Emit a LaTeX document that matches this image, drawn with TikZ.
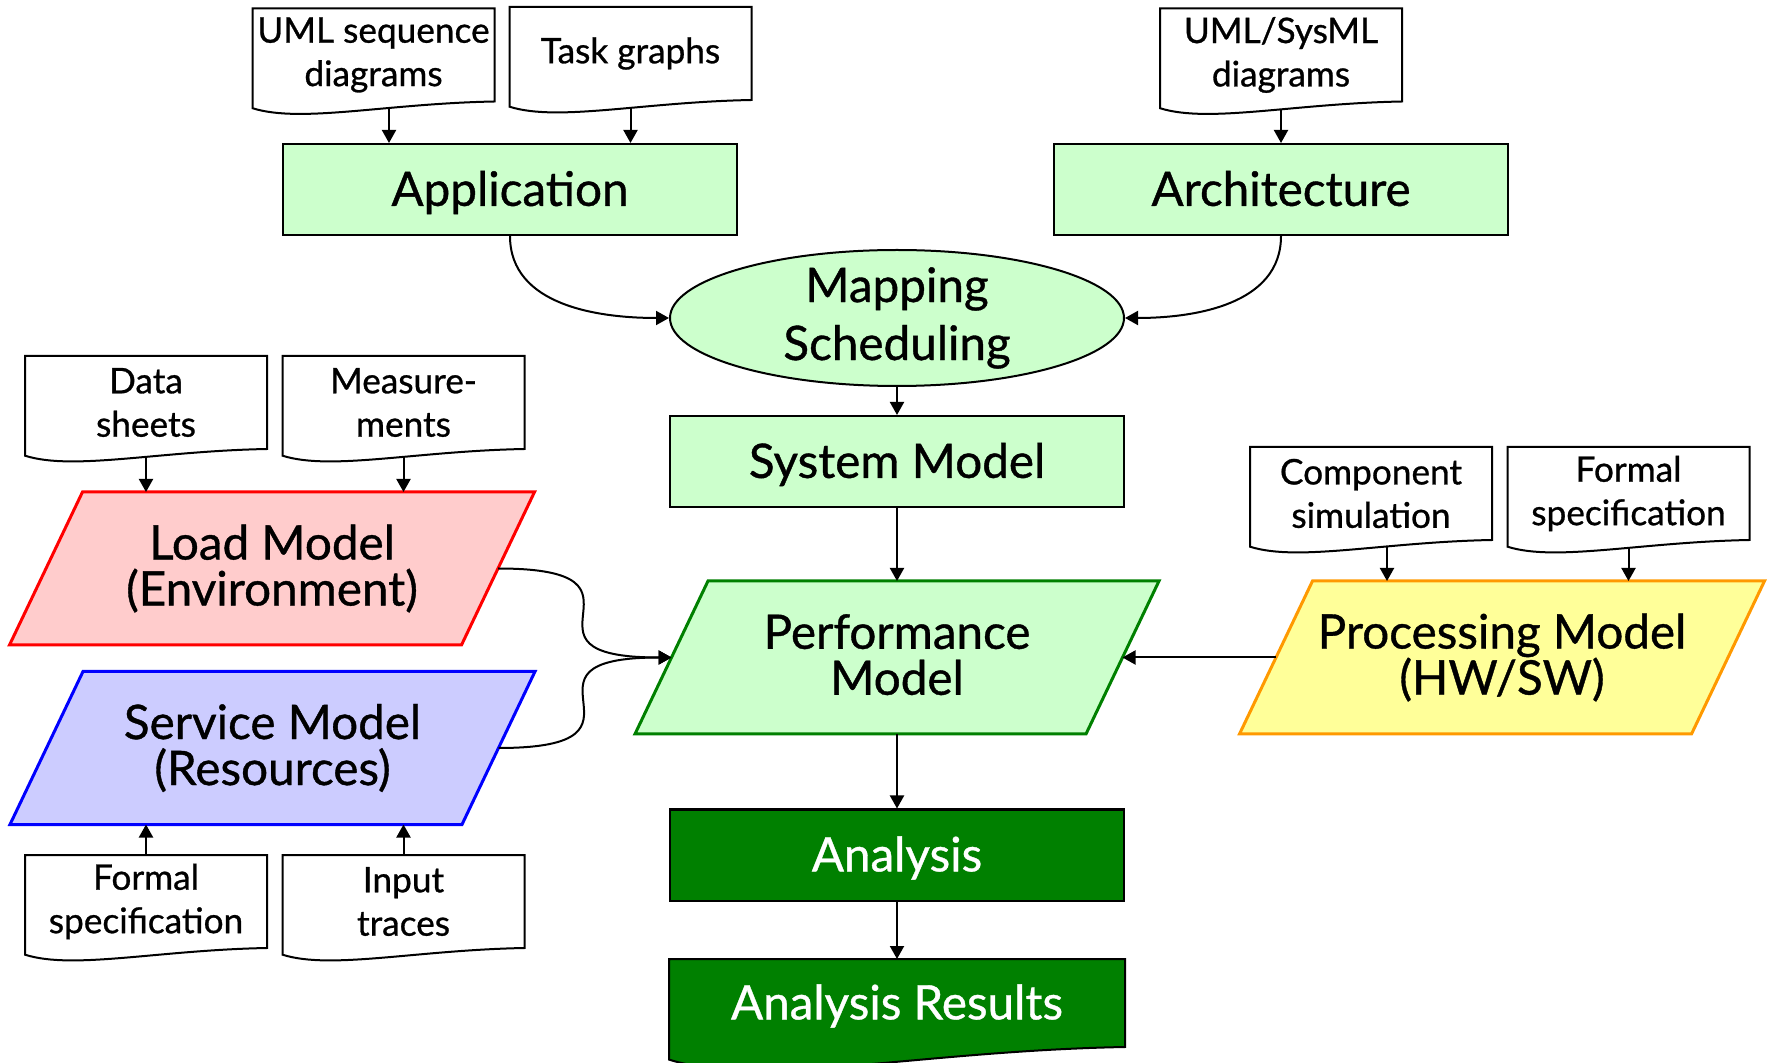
\documentclass[tikz,border=0pt]{standalone}
\usepackage{fontspec}
\setmainfont{Lato}[FakeBold=0.8]
\usetikzlibrary{shapes.geometric,arrows.meta,calc,backgrounds}

\definecolor{lgreen}{HTML}{CCFFCC}
\definecolor{dgreen}{HTML}{008000}
\definecolor{lred}{HTML}{FFCCCC}
\definecolor{lblue}{HTML}{CCCCFF}
\definecolor{lyellow}{HTML}{FFFF99}
\definecolor{borange}{HTML}{FF9900}

% outline of a "document" symbol: rectangle with a wavy lower edge
\newcommand\docoutline[3][]{%
  \draw[#1] (#2.north west) -- (#2.north east) -- (#2.south east)
    .. controls ($(#2.south west)!0.55!(#2.south east)+(0,{2*#3})$)
            and ($(#2.south west)!0.2!(#2.south east)+(0,{22*#3})$)
    .. ($(#2.south west)+(0,{6.7*#3})$) -- cycle;}

% outline of a parallelogram leaning right, built on a rectangular node
\newcommand\paraoutline[2][]{%
  \draw[#1] ($(#2.north west)+(36.5,0)$) -- ($(#2.north east)+(36.5,0)$)
    -- ($(#2.south east)+(-36.5,0)$) -- ($(#2.south west)+(-36.5,0)$) -- cycle;}

\begin{document}
\begin{tikzpicture}[x=0.5pt,y=-0.5pt,
  arr/.style={-{Triangle[length=6.5pt,width=7pt]}, line width=1pt},
  box/.style={rectangle, draw, line width=1pt, fill=lgreen,
    minimum width=227pt, minimum height=45.5pt, inner sep=0pt,
    text height=20pt, text depth=3.6pt,
    font=\fontsize{23.8}{24}\selectfont},
  docbox/.style={rectangle, minimum width=121pt, minimum height=46.5pt,
    inner sep=0pt, outer sep=0pt, align=center,
    font=\fontsize{17.6}{21.7}\selectfont},
  docline/.style={draw, line width=1pt, fill=white},
  para/.style={rectangle, minimum width=226pt, minimum height=76.5pt,
    inner sep=0pt, outer sep=0pt, align=center,
    font=\fontsize{23.8}{23}\selectfont},
  paraline/.style={line width=1.5pt, line join=miter},
  ]
\useasboundingbox (0,0) rectangle (1768,1063);

% main flow
\node[box] (app) at (510,189.5) {Application};
\node[box] (arch) at (1281,189.5) {Architecture};
\node[ellipse, draw, line width=1pt, fill=lgreen, minimum width=227pt,
  minimum height=68pt, inner sep=-1.5pt, align=center,
  font=\fontsize{23.8}{29}\selectfont] (map) at (897,318) {\raisebox{-4pt}{\vbox{\halign{\hfil#\hfil\cr Mapping\cr Scheduling\cr}}}};
\node[box] (sys) at (897,461.5) {System Model};
\node[para, minimum width=225.5pt] (perf) at (897,657.5) {\raisebox{3pt}{\vbox{\halign{\hfil#\hfil\cr Performance\cr Model\cr}}}};
\node[para] (load) at (272,568.5) {Load Model\\(Environment)};
\node[para] (serv) at (272.5,748) {Service Model\\(Resources)};
\node[para] (proc) at (1502,657.5) {Processing Model\\(HW/SW)};
\node[box, fill=dgreen, text=white] (ana) at (897,855) {Analysis};
\node[box, draw=none, fill=none, text=white, minimum height=43pt] (res) at (897,1003) {Analysis Results};

% input documents
\node[docbox] (uml) at (373.5,55) {UML sequence\\diagrams};
\node[docbox] (task) at (630.5,53.5) {Task graphs};
\node[docbox] (sysml) at (1281,55) {UML/SysML\\diagrams};
\node[docbox] (data) at (146,402.5) {Data\\sheets};
\node[docbox] (meas) at (403.5,402.5) {Measure-\\ments};
\node[docbox] (fsl) at (146,901.5) {Formal\\specification};
\node[docbox] (trace) at (403.5,901.5) {Input\\traces};
\node[docbox] (comp) at (1371,493.5) {Component\\simulation};
\node[docbox] (fsr) at (1628.5,493.5) {Formal\\specification};

\begin{scope}[on background layer]
  \docoutline[docline]{uml}{1}
  \docoutline[docline]{task}{1}
  \docoutline[docline]{sysml}{1}
  \docoutline[docline]{data}{1}
  \docoutline[docline]{meas}{1}
  \docoutline[docline]{fsl}{1}
  \docoutline[docline]{trace}{1}
  \docoutline[docline]{comp}{1}
  \docoutline[docline]{fsr}{1}
  \docoutline[draw, line width=1pt, fill=dgreen]{res}{1.88}
  \paraoutline[paraline, draw=dgreen, fill=lgreen]{perf}
  \paraoutline[paraline, draw=red, fill=lred]{load}
  \paraoutline[paraline, draw=blue, fill=lblue]{serv}
  \paraoutline[paraline, draw=borange, fill=lyellow]{proc}
\end{scope}

% connectors
\draw[arr] (app.south) to[out=-90,in=180] (map.west);
\draw[arr] (arch.south) to[out=-90,in=0] (map.east);
\draw[arr] (map.south) -- (sys.north);
\draw[arr] (sys.south) -- (perf.north);
\draw[arr] (load.east) .. controls +(176,0) and +(-176,0) .. (perf.west);
\draw[arr] (serv.east) .. controls +(176,0) and +(-176,0) .. (perf.west);
\draw[arr] (proc.west) -- (perf.east);
\draw[arr] (perf.south) -- (ana.north);
\draw[arr] (ana.south) -- (res.north);

\draw[arr] ($(uml.south)+(15.5,6.5)$) coordinate (u1) -- (u1 |- app.north);
\draw[arr] ($(task.south)+(0,8)$) coordinate (u2) -- (u2 |- app.north);
\draw[arr] ($(sysml.south)+(0,8)$) coordinate (u3) -- (u3 |- arch.north);
\draw[arr] ($(data.south)+(0,8)$) coordinate (u4) -- (u4 |- load.north);
\draw[arr] ($(meas.south)+(0,8)$) coordinate (u5) -- (u5 |- load.north);
\draw[arr] ($(comp.south)+(16,6.5)$) coordinate (u6) -- (u6 |- proc.north);
\draw[arr] ($(fsr.south)+(0,8)$) coordinate (u7) -- (u7 |- proc.north);
\draw[arr] (fsl.north) -- (fsl.north |- serv.south);
\draw[arr] (trace.north) -- (trace.north |- serv.south);
\end{tikzpicture}
\end{document}
